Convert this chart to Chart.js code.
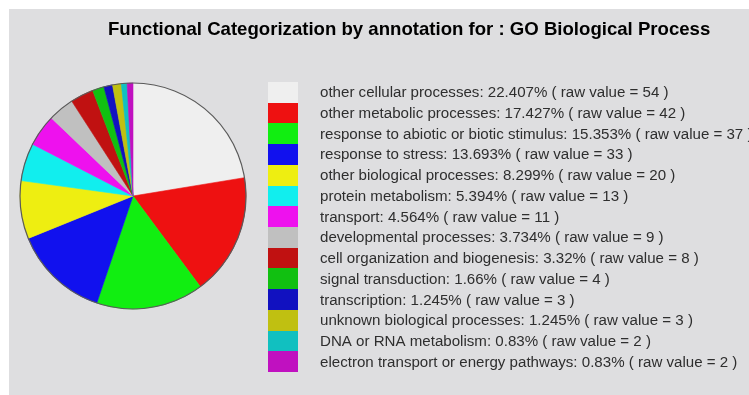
<!DOCTYPE html>
<html>
<head>
<meta charset="utf-8">
<script src="https://cdn.jsdelivr.net/npm/chart.js@4"></script>
<style>
  html, body { margin: 0; padding: 0; background: #ffffff; }
  #wrap { position: relative; width: 749px; height: 395px; }
</style>
</head>
<body>
<div id="wrap"><canvas id="c" width="749" height="395"></canvas></div>
<script>
const chartTitle = 'Functional Categorization by annotation for : GO Biological Process';

const categories = [
  'other cellular processes',
  'other metabolic processes',
  'response to abiotic or biotic stimulus',
  'response to stress',
  'other biological processes',
  'protein metabolism',
  'transport',
  'developmental processes',
  'cell organization and biogenesis',
  'signal transduction',
  'transcription',
  'unknown biological processes',
  'DNA or RNA metabolism',
  'electron transport or energy pathways'
];

const rawValues = [54, 42, 37, 33, 20, 13, 11, 9, 8, 4, 3, 3, 2, 2];

const percentLabels = ['22.407', '17.427', '15.353', '13.693', '8.299', '5.394', '4.564',
                       '3.734', '3.32', '1.66', '1.245', '1.245', '0.83', '0.83'];

const sliceColors = [
  '#efefef', '#ee1111', '#11ee11', '#1111ee', '#eeee11', '#11eeee', '#ee11ee',
  '#c0c0c0', '#c01111', '#11c011', '#1111c0', '#c0c011', '#11c0c0', '#c011c0'
];

// Grey panel, pie outline, title and the colour-key list
const decorations = {
  id: 'decorations',
  beforeDraw(chart) {
    const ctx = chart.ctx;
    ctx.save();
    ctx.fillStyle = '#dedee0';
    ctx.fillRect(9, 9, chart.width - 9, chart.height - 9);
    ctx.restore();
  },
  afterDatasetsDraw(chart) {
    const arc = chart.getDatasetMeta(0).data[0];
    const ctx = chart.ctx;
    ctx.save();
    ctx.beginPath();
    ctx.arc(arc.x, arc.y, arc.outerRadius, 0, Math.PI * 2);
    ctx.strokeStyle = '#5a5a5a';
    ctx.lineWidth = 1.2;
    ctx.stroke();
    ctx.restore();
  },
  afterDraw(chart) {
    const ctx = chart.ctx;
    const ds = chart.data.datasets[0];
    ctx.save();
    // title
    ctx.fillStyle = '#000000';
    ctx.font = 'bold 18.6px "Liberation Sans", Arial, sans-serif';
    ctx.textAlign = 'left';
    ctx.textBaseline = 'alphabetic';
    ctx.fillText(chartTitle, 108, 35);

    // colour key
    const boxX = 268, boxW = 30, top = 82, rowH = 20.72;
    ctx.font = '15.1px "Liberation Sans", Arial, sans-serif';
    chart.data.labels.forEach((label, i) => {
      const y0 = Math.round(top + i * rowH);
      const y1 = Math.round(top + (i + 1) * rowH);
      ctx.fillStyle = ds.backgroundColor[i];
      ctx.fillRect(boxX, y0, boxW, y1 - y0);
      ctx.fillStyle = '#2e2e2e';
      const text = label + ': ' + percentLabels[i] + '% ( raw value = ' + ds.data[i] + ' )';
      ctx.fillText(text, 320, top + i * rowH + 15.3);
    });
    ctx.restore();
  }
};

new Chart(document.getElementById('c'), {
  type: 'pie',
  data: {
    labels: categories,
    datasets: [{
      data: rawValues,
      backgroundColor: sliceColors,
      borderColor: sliceColors,
      borderWidth: 0.6,
      hoverOffset: 0,
      offset: 0,
      radius: 113
    }]
  },
  options: {
    responsive: false,
    animation: false,
    events: [],
    layout: { padding: { left: 20, right: 503, top: 83, bottom: 86 } },
    plugins: {
      legend: { display: false },
      tooltip: { enabled: false },
      title: { display: false }
    }
  },
  plugins: [decorations]
});
</script>
</body>
</html>
